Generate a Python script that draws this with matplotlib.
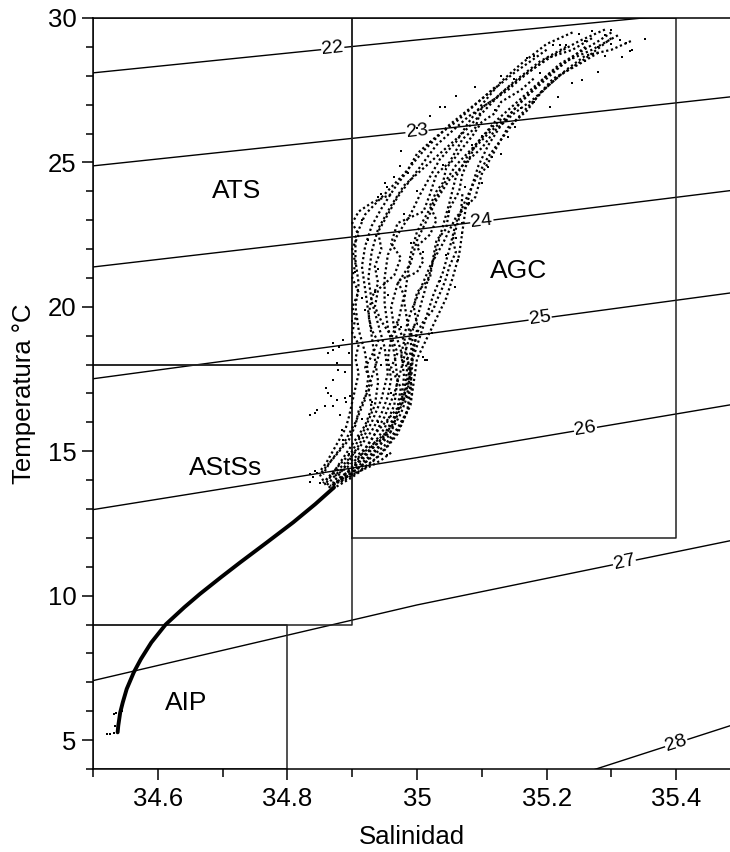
import numpy as np
import matplotlib.pyplot as plt

plt.rcParams['font.family'] = ['Liberation Sans', 'DejaVu Sans']

# isopycnas sigma-t: temperatura en S = 34.5, 35.0, 35.5
sig_levels = [22, 23, 24, 25, 26, 27, 28]
sig_s = [34.5, 35.0, 35.5]
sig_t = [[28.10, 29.24, 30.33],
         [24.88, 26.07, 27.31],
         [21.38, 22.68, 24.07],
         [17.51, 19.02, 20.53],
         [12.98, 14.78, 16.67],
         [7.06, 9.68, 11.98],
         [-1.70, 2.00, 5.62]]
sig_label_s = [34.87, 35.0, 35.1, 35.19, 35.26, 35.32, 35.40]

# masas de agua (S min, S max, T min, T max)
masas = ['ATS', 'AStSs', 'AGC', 'AIP']
masa_smin = [34.5, 34.5, 34.9, 34.5]
masa_smax = [34.9, 34.9, 35.4, 34.8]
masa_tmin = [18, 9, 12, 4]
masa_tmax = [30, 18, 30, 9]
masa_label_s = [34.722, 34.704, 35.157, 34.643]
masa_label_t = [24.0, 14.43, 21.25, 6.3]

# curva profunda (todos los perfiles convergen)
deep_s = [34.872, 34.843, 34.809, 34.768, 34.727, 34.697, 34.665, 34.641,
          34.612, 34.590, 34.574, 34.563, 34.552, 34.546, 34.542, 34.539, 34.538]
deep_t = [13.75, 13.17, 12.54, 11.84, 11.15, 10.63, 10.06, 9.60,
          9.0, 8.38, 7.81, 7.35, 6.77, 6.31, 5.96, 5.50, 5.27]

# perfiles CTD en la capa superior (S, T)
perfiles = [
    [(35.30, 29.5), (35.28, 29.2), (35.25, 28.8), (35.22, 28.4), (35.18, 27.6), (35.15, 27.0),
     (35.12, 26.4), (35.09, 25.6), (35.06, 24.9), (35.04, 24.2), (35.02, 23.4), (35.00, 22.6),
     (34.99, 21.8), (34.985, 21.0), (34.98, 20.2), (34.985, 19.5), (34.99, 18.9), (34.993, 18.1),
     (34.99, 17.2), (34.975, 16.3), (34.955, 15.5), (34.925, 14.8), (34.89, 14.1), (34.866, 13.8)],
    [(35.31, 29.4), (35.27, 28.9), (35.23, 28.5), (35.20, 28.0), (35.17, 27.3), (35.14, 26.6),
     (35.11, 26.0), (35.08, 25.3), (35.06, 24.5), (35.05, 23.6), (35.04, 22.8), (35.03, 22.0),
     (35.02, 21.2), (35.01, 20.4), (35.00, 19.6), (34.985, 18.7), (34.975, 17.8), (34.965, 17.0),
     (34.95, 16.2), (34.93, 15.4), (34.905, 14.6), (34.88, 14.0), (34.866, 13.8)],
    [(35.29, 29.6), (35.25, 29.2), (35.21, 28.7), (35.17, 28.1), (35.13, 27.4), (35.10, 26.7),
     (35.07, 26.0), (35.04, 25.4), (35.01, 24.8), (34.98, 24.2), (34.96, 23.5), (34.94, 22.7),
     (34.93, 21.9), (34.925, 21.0), (34.93, 20.2), (34.94, 19.4), (34.95, 18.6), (34.955, 17.7),
     (34.945, 16.8), (34.93, 16.0), (34.91, 15.2), (34.89, 14.5), (34.87, 13.9)],
    [(35.26, 29.0), (35.22, 28.3), (35.19, 27.7), (35.16, 27.1), (35.13, 26.3), (35.11, 25.6),
     (35.095, 24.9), (35.085, 24.2), (35.075, 23.4), (35.07, 22.6), (35.065, 21.8), (35.055, 21.0),
     (35.045, 20.3), (35.03, 19.6), (35.015, 18.9), (35.0, 18.2), (34.995, 17.4), (34.99, 16.6),
     (34.975, 15.9), (34.955, 15.2), (34.93, 14.6), (34.90, 14.1), (34.87, 13.7)],
    [(35.20, 28.9), (35.15, 28.1), (35.10, 27.2), (35.05, 26.3), (35.01, 25.4), (34.98, 24.6),
     (34.95, 23.9), (34.92, 23.2), (34.905, 22.4), (34.905, 21.6), (34.91, 20.8), (34.905, 20.0),
     (34.91, 19.2), (34.92, 18.4), (34.925, 17.6), (34.92, 16.8), (34.905, 16.0), (34.885, 15.2),
     (34.865, 14.6), (34.85, 14.2), (34.86, 13.8)],
    [(35.30, 29.3), (35.26, 28.6), (35.22, 28.0), (35.18, 27.2), (35.15, 26.7), (35.12, 26.1),
     (35.10, 25.5), (35.075, 25.0), (35.05, 24.4), (35.03, 23.7), (35.015, 23.0), (35.00, 22.3),
     (34.99, 21.5), (34.97, 20.8), (34.96, 20.0), (34.965, 19.2), (34.975, 18.5), (34.98, 17.6),
     (34.975, 16.7), (34.96, 15.9), (34.94, 15.1), (34.915, 14.5), (34.885, 14.0), (34.86, 13.7)],
    [(35.24, 29.5), (35.20, 29.1), (35.16, 28.4), (35.13, 27.8), (35.10, 27.0), (35.08, 26.4),
     (35.06, 25.7), (35.035, 25.1), (35.02, 24.5), (35.005, 23.9), (34.99, 23.2), (34.97, 22.5),
     (34.955, 21.8), (34.95, 21.0), (34.95, 20.1), (34.955, 19.3), (34.965, 18.4), (34.97, 17.5),
     (34.965, 16.6), (34.95, 15.8), (34.925, 15.0), (34.895, 14.3), (34.87, 13.8)],
    [(35.28, 28.8), (35.25, 28.4), (35.21, 27.9), (35.19, 27.4), (35.17, 26.8), (35.14, 26.2),
     (35.12, 25.4), (35.10, 24.6), (35.09, 23.8), (35.06, 23.1), (35.04, 22.2), (35.02, 21.4),
     (35.005, 20.6), (34.99, 19.8), (34.98, 19.0), (34.985, 18.2), (34.99, 17.3), (34.985, 16.4),
     (34.97, 15.6), (34.945, 14.9), (34.91, 14.3), (34.88, 13.9)],
    [(35.33, 29.2), (35.30, 28.9), (35.26, 28.7), (35.23, 28.2), (35.20, 27.6), (35.17, 26.9),
     (35.15, 26.4), (35.13, 25.8), (35.11, 25.2), (35.09, 24.4), (35.075, 23.7), (35.06, 22.9),
     (35.05, 22.0), (35.04, 21.2), (35.025, 20.4), (35.015, 19.7), (35.005, 19.0), (34.995, 18.3),
     (34.985, 17.5), (34.98, 16.8), (34.965, 16.0), (34.94, 15.3), (34.915, 14.7), (34.89, 14.2),
     (34.87, 13.8)],
    [(35.12, 27.6), (35.09, 27.0), (35.06, 26.4), (35.03, 25.9), (35.00, 25.3), (34.985, 24.7),
     (34.965, 24.1), (34.945, 23.4), (34.93, 22.8), (34.92, 22.1), (34.915, 21.4), (34.92, 20.6),
     (34.925, 19.8), (34.93, 19.0), (34.935, 18.2), (34.94, 17.4), (34.935, 16.6), (34.92, 15.8),
     (34.90, 15.0), (34.875, 14.4), (34.86, 13.9)],
    [(34.96, 14.95), (34.945, 14.7), (34.93, 14.5), (34.915, 14.35), (34.90, 14.2), (34.88, 14.0)],
    [(35.27, 29.3), (35.24, 28.9), (35.20, 28.6), (35.16, 27.9), (35.14, 27.5), (35.10, 26.9),
     (35.09, 26.2), (35.07, 25.8), (35.05, 25.0), (35.03, 24.6), (35.02, 23.9), (35.01, 23.3),
     (34.97, 22.9), (34.96, 22.2), (34.975, 21.7), (34.965, 21.1), (34.94, 20.6), (34.935, 20.0),
     (34.945, 19.5), (34.96, 19.0), (34.97, 18.4), (34.96, 17.9), (34.975, 17.2), (34.97, 16.5),
     (34.955, 16.1), (34.935, 15.6), (34.92, 15.1), (34.90, 14.7), (34.875, 14.2), (34.86, 13.8)],
    [(35.18, 27.9), (35.16, 27.5), (35.13, 27.1), (35.12, 26.7), (35.10, 26.4), (35.085, 25.9),
     (35.07, 25.5), (35.06, 25.2), (35.045, 24.8), (35.04, 24.3), (35.03, 24.0), (35.02, 23.5),
     (35.03, 23.0), (35.02, 22.5), (35.00, 22.1), (35.01, 21.6), (35.00, 21.2), (34.97, 20.9),
     (34.98, 20.4), (34.975, 19.9), (34.97, 19.4), (34.98, 18.8), (34.975, 18.3), (34.985, 17.9),
     (34.98, 17.0), (34.97, 16.4), (34.96, 15.7), (34.945, 15.4), (34.92, 14.9), (34.90, 14.4),
     (34.875, 14.0)],
    [(35.07, 23.9), (35.068, 23.3), (35.06, 22.7), (35.055, 22.3), (35.06, 21.9), (35.05, 21.4),
     (35.045, 21.0), (35.04, 20.7), (35.03, 20.2), (35.025, 19.9), (35.01, 19.5), (35.00, 19.1),
     (34.995, 18.6), (34.99, 18.0), (34.985, 17.2), (34.975, 16.8)],
    [(34.96, 23.9), (34.93, 23.6), (34.91, 23.3), (34.90, 22.9), (34.91, 22.5), (34.90, 22.0),
     (34.905, 21.5), (34.90, 21.0), (34.91, 20.5), (34.90, 20.0), (34.905, 19.6), (34.90, 19.1),
     (34.91, 18.7), (34.905, 18.2), (34.91, 17.7), (34.905, 17.2), (34.90, 16.7), (34.895, 16.2),
     (34.89, 15.8), (34.88, 15.4), (34.87, 15.0), (34.86, 14.6), (34.85, 14.3)],
    [(35.23, 29.0), (35.19, 28.5), (35.15, 27.8), (35.12, 27.2), (35.08, 26.6), (35.05, 26.0),
     (35.03, 25.6), (35.01, 25.0), (34.99, 24.4), (34.97, 23.8), (34.955, 23.2), (34.94, 22.6),
     (34.945, 22.0), (34.935, 21.4), (34.94, 20.8), (34.93, 20.3), (34.925, 19.7), (34.93, 19.2),
     (34.94, 18.8), (34.93, 18.3), (34.92, 17.9), (34.93, 17.3), (34.92, 16.9), (34.91, 16.4),
     (34.905, 15.9), (34.895, 15.4), (34.88, 15.0), (34.865, 14.6), (34.855, 14.2)],
    [(35.13, 26.5), (35.11, 26.1), (35.09, 25.6), (35.08, 25.1), (35.07, 24.6), (35.065, 24.0),
     (35.05, 23.4), (35.045, 22.7), (35.03, 22.3), (35.025, 21.7), (35.02, 21.0), (35.00, 20.5),
     (34.995, 20.0), (35.00, 19.4), (34.99, 19.2), (34.995, 18.6), (34.985, 18.2), (34.99, 17.8),
     (34.985, 17.0), (34.975, 16.6), (34.965, 16.2), (34.95, 15.6), (34.93, 15.2), (34.91, 14.8),
     (34.89, 14.4), (34.87, 14.1)],
    [(35.00, 19.2), (34.995, 18.5), (34.99, 17.8), (34.992, 17.0), (34.985, 16.4), (34.97, 15.8),
     (34.95, 15.2), (34.92, 14.6), (34.89, 14.1)],
    [(34.97, 19.5), (34.96, 18.9), (34.955, 18.2), (34.96, 17.5), (34.955, 16.9), (34.945, 16.3),
     (34.93, 15.7), (34.91, 15.1), (34.885, 14.5), (34.86, 14.0)],
    [(34.945, 18.6), (34.935, 17.9), (34.925, 17.2), (34.93, 16.5), (34.92, 15.9), (34.905, 15.4),
     (34.89, 14.9), (34.875, 14.4), (34.855, 13.9)],
]

# puntos sueltos
suelto_s = [35.352, 35.332, 35.316, 35.323, 35.313, 35.328, 35.21, 35.22, 35.23,
            35.043, 34.986, 34.992, 34.94, 34.951, 35.218, 35.205, 35.239, 35.279, 35.255,
            35.151, 35.14, 35.116, 35.11, 35.074, 35.069, 35.063, 35.059, 35.023, 35.012,
            34.886, 34.871, 34.863, 34.876, 34.878, 34.889, 34.871, 34.86, 34.863, 34.868,
            34.876, 34.889, 34.897, 34.891, 34.858, 34.845, 34.835, 34.843, 34.881, 34.871,
            34.884, 34.886, 34.953, 35.01, 35.015, 34.835, 34.84, 34.845, 34.835, 34.85,
            34.842, 34.87, 34.88, 34.895, 34.974, 34.953, 34.965, 35.036,
            34.915, 34.925, 34.905, 34.915, 34.90, 34.92, 34.945, 34.975, 35.05, 35.06,
            35.045, 35.035, 35.04, 35.085, 35.10, 35.12, 35.16, 35.18, 35.19, 35.13,
            35.17, 35.25, 35.27, 35.30, 35.29, 35.26, 35.28, 35.30, 35.29, 35.24,
            35.26, 35.02, 35.00, 34.98, 34.99, 35.01, 34.94, 34.935, 34.955, 34.975,
            34.945, 34.96, 34.93, 34.915, 34.94, 34.91, 34.895,
            35.00, 35.02, 35.06, 35.09, 35.13, 35.10, 35.07, 35.08, 35.15, 35.18,
            34.521, 34.527, 34.532, 34.535, 34.533, 34.534, 34.545, 34.548]
suelto_t = [29.27, 28.9, 28.65, 29.12, 29.24, 28.84, 29.07, 29.07, 29.07,
            26.92, 24.63, 24.98, 23.8, 24.29, 27.27, 26.92, 27.75, 28.13, 27.85,
            26.23, 25.88, 25.19, 24.84, 24.15, 22.56, 21.63, 20.69, 19.1, 18.17,
            18.86, 18.51, 18.40, 18.05, 17.82, 17.76, 17.47, 17.19, 17.01, 16.9,
            16.78, 16.84, 16.9, 16.72, 16.55, 16.44, 16.26, 16.32, 16.26, 16.55,
            15.74, 15.4, 14.88, 18.28, 18.17, 14.2, 14.1, 14.25, 13.95, 13.9,
            14.3, 18.75, 18.6, 18.4, 24.86, 24.16, 24.5, 26.93,
            23.0, 22.3, 21.2, 20.3, 19.5, 19.9, 23.9, 25.4, 23.3, 22.4,
            21.8, 20.9, 24.9, 25.6, 25.9, 26.8, 26.9, 27.1, 28.1, 28.0,
            28.6, 29.45, 29.55, 29.6, 29.4, 29.2, 29.0, 29.1, 28.7, 28.6,
            28.5, 25.7, 24.0, 23.2, 22.2, 21.9, 21.3, 20.5, 20.4, 19.3,
            18.0, 17.0, 16.7, 16.1, 16.0, 15.5, 14.9,
            26.2, 26.6, 27.3, 27.6, 25.3, 24.3, 22.9, 23.6, 27.9, 28.7,
            5.22, 5.2, 5.25, 5.95, 5.9, 5.5, 6.0, 6.5]

fig = plt.figure(figsize=(7.3, 8.52), dpi=100)
ax = fig.add_axes([0.1274, 0.0974, 0.8726, 0.8815])
ax.set_xlim(34.5, 35.483)
ax.set_ylim(4, 30)

# isopicnas
for lev, ts, ls_ in zip(sig_levels, sig_t, sig_label_s):
    ax.plot(sig_s, ts, color='k', lw=1.0, zorder=2)
    tl = np.interp(ls_, sig_s, ts)
    slope = np.interp(ls_, sig_s[1:], np.diff(ts) / np.diff(sig_s))
    ax.text(ls_, tl, str(lev), fontsize=14, ha='center', va='center',
            rotation=np.degrees(np.arctan(slope)), transform_rotates_text=True,
            rotation_mode='anchor',
            bbox=dict(fc='white', ec='none', pad=0.5), zorder=3)

# cajas de masas de agua
for smin, smax, tmin, tmax in zip(masa_smin, masa_smax, masa_tmin, masa_tmax):
    ax.plot([smin, smax, smax, smin, smin], [tmin, tmin, tmax, tmax, tmin],
            color='#222222', lw=1.1, zorder=2)
for nombre, s, t in zip(masas, masa_label_s, masa_label_t):
    ax.text(s, t, nombre, fontsize=19, ha='center', va='center', zorder=4)

# datos
ax.plot(deep_s, deep_t, color='k', lw=2.8, solid_capstyle='round',
        solid_joinstyle='round', zorder=5)
for p in perfiles:
    ps, pt = zip(*p)
    ax.plot(ps, pt, color='k', lw=1.6, ls=(0, (1, 1.2)), zorder=5)
ax.scatter(suelto_s, suelto_t, s=4, c='k', marker='s', lw=0, zorder=5)

ax.set_xticks([34.6, 34.8, 35.0, 35.2, 35.4])
ax.set_xticklabels(['34.6', '34.8', '35', '35.2', '35.4'])
ax.set_xticks(np.arange(34.5, 35.5, 0.2), minor=True)
ax.set_yticks([5, 10, 15, 20, 25, 30])
ax.set_yticks(np.arange(4, 30, 1), minor=True)
ax.tick_params(which='both', direction='out', labelsize=18.5, width=1.1, top=False, right=False)
ax.tick_params(axis='x', which='major', length=8, pad=5)
ax.tick_params(axis='x', which='minor', length=6)
ax.tick_params(axis='y', which='major', length=8, pad=4)
ax.tick_params(axis='y', which='minor', length=5)
ax.spines['right'].set_visible(False)
for sp in ['left', 'bottom', 'top']:
    ax.spines[sp].set_linewidth(1.1)

ax.set_xlabel('Salinidad', fontsize=18.5, labelpad=10)
ax.set_ylabel('Temperatura °C', fontsize=18.5, labelpad=8)

fig.savefig('out.png', dpi=100)
